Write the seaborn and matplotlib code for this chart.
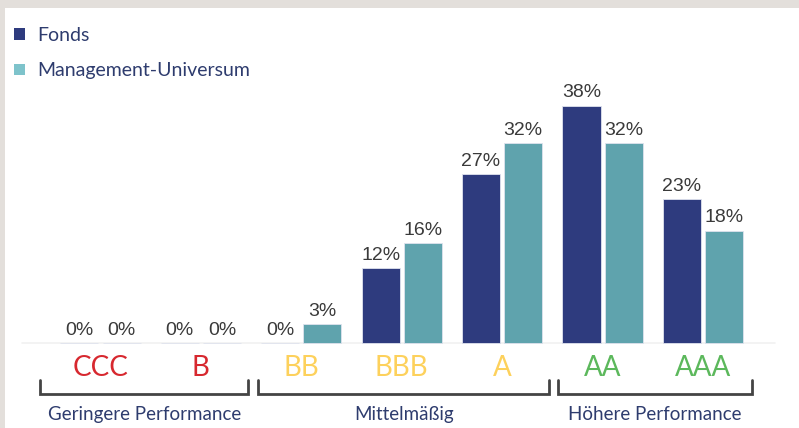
import seaborn as sns
import matplotlib.pyplot as plt
import pandas as pd
from matplotlib.patches import Patch

ratings = ['CCC', 'B', 'BB', 'BBB', 'A', 'AA', 'AAA']
rating_colors = ['#d7282f', '#d7282f', '#fdd15c', '#fdd15c', '#fdd15c', '#5cb85c', '#5cb85c']
fonds = [0, 0, 0, 12, 27, 38, 23]
universum = [0, 0, 3, 16, 32, 32, 18]
series_names = ['Fonds', 'Management-Universum']
groups = ['Geringere Performance', 'Mittelmäßig', 'Höhere Performance']
# bracket extent in category units
group_spans = [(-0.60, 1.47), (1.57, 4.47), (4.56, 6.49)]

bar_colors = ['#2e3b7e', '#5fa3ad']
legend_colors = ['#2e3b7e', '#7ec3cb']
navy_text = '#2e3c6e'

df = pd.concat([
    pd.DataFrame({'rating': ratings, 'value': fonds, 'series': series_names[0]}),
    pd.DataFrame({'rating': ratings, 'value': universum, 'series': series_names[1]}),
])

sns.set_style('white')
plt.rcParams['font.family'] = ['Lato', 'DejaVu Sans']

fig = plt.figure(figsize=(7.99, 4.28), dpi=100, facecolor='#e3dfdb')
ax = fig.add_axes([5 / 799, 0, 794 / 799, 420 / 428])
ax.set_facecolor('white')

sns.barplot(data=df, x='rating', y='value', hue='series', order=ratings,
            hue_order=series_names, palette=bar_colors, saturation=1,
            width=0.84, gap=0.095, edgecolor='#dfe3ee', linewidth=0.6, ax=ax)

for cont in ax.containers:
    ax.bar_label(cont, fmt='{:.0f}%', padding=3, fontsize=14,
                 color='#3a3a3a', family='Liberation Sans')

ax.set_xlim(-0.9512, 6.957)
ax.set_ylim(-13.6, 53.6)
ax.axhline(0, xmin=0.0214, xmax=0.9698, color='#f1f1f1', lw=1.2, zorder=0)

ax.set_xlabel('')
ax.set_ylabel('')
ax.set_yticks([])
ax.set_xticks([])
sns.despine(ax=ax, left=True, bottom=True)

tr = ax.get_xaxis_transform()
for i, (r, c) in enumerate(zip(ratings, rating_colors)):
    ax.text(i, 0.1238, r, transform=tr, ha='center', va='baseline',
            fontsize=20, color=c)

# brackets + group names under the ratings
for name, (x0, x1) in zip(groups, group_spans):
    ax.plot([x0, x0, x1, x1], [0.1143, 0.081, 0.081, 0.1143], transform=tr,
            color='#444444', lw=2, solid_joinstyle='miter', clip_on=False)
    ax.text((x0 + x1) / 2, 0.019, name, transform=tr, ha='center', va='baseline',
            fontsize=13.5, color=navy_text)

ax.get_legend().remove()
handles = [Patch(facecolor=c, edgecolor='none') for c in legend_colors]
leg = ax.legend(handles, series_names, loc='upper left',
                bbox_to_anchor=(14 / 799, (428 - 27) / 428), bbox_transform=fig.transFigure,
                frameon=False, fontsize=14, handlelength=0.55, handleheight=0.55,
                handletextpad=0.65, labelspacing=0.95, borderpad=0, borderaxespad=0)
for t in leg.get_texts():
    t.set_color(navy_text)

fig.savefig('out.png', dpi=100, facecolor=fig.get_facecolor())
